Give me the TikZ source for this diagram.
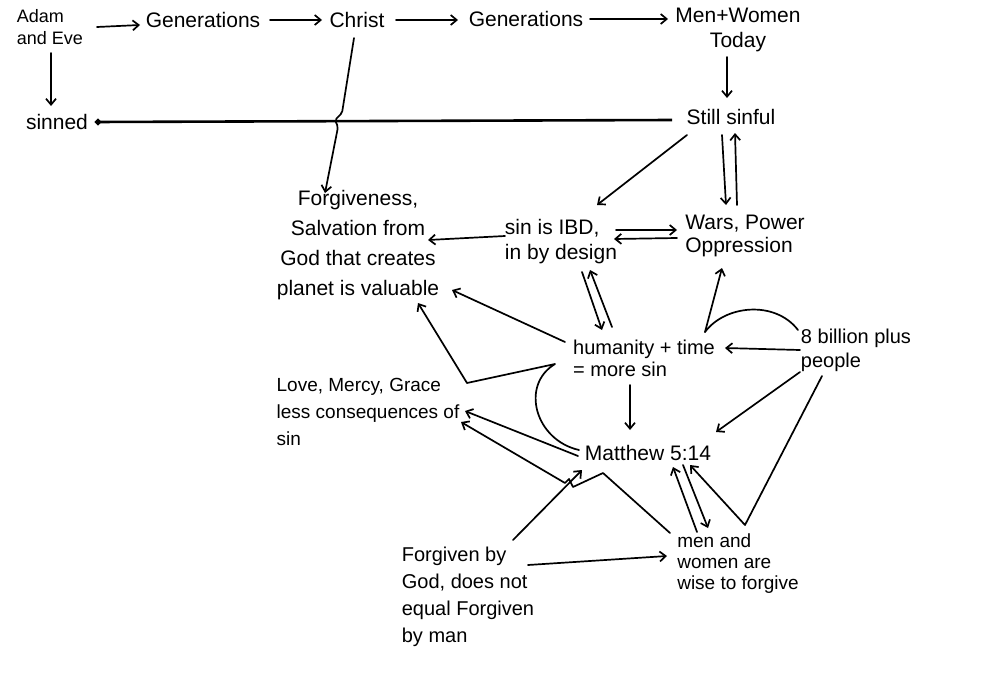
\documentclass[tikz,border=0pt]{standalone}
\usepackage{fontspec}
\setmainfont{Liberation Sans}
\usetikzlibrary{arrows.meta}
\tikzset{
  lbl/.style={font=\fontsize{21}{25}\selectfont, inner sep=0pt, align=center},
  lbll/.style={lbl, align=left},
  arr/.style={-{Straight Barb[length=6pt,width=10pt]}, line width=1.7pt, line cap=round, line join=round},
  ln/.style={line width=1.7pt, line cap=round, line join=round},
  thickln/.style={line width=2.6pt, {Circle[length=6pt]}-},
}
\begin{document}
\begin{tikzpicture}[x=1pt,y=-1pt]
\useasboundingbox[fill=white] (0,0) rectangle (987,685);
% nodes
\node[lbll,font=\fontsize{18}{22}\selectfont] (adam) at (50,27) {Adam\\and Eve};
\node[lbl] (gen1) at (203,20) {Generations};
\node[lbl] (christ) at (357,20) {Christ};
\node[lbl] (gen2) at (526,19) {Generations};
\node[lbl] (men) at (738,30) {Men+Women\\Today};
\node[lbl] (still) at (731,117) {Still sinful};
\node[lbl] (sinned) at (57,122) {sinned};
\node[lbl,font=\fontsize{21}{30}\selectfont] (forg) at (358,245) {Forgiveness,\\Salvation from\\God that creates\\planet is valuable};
\node[lbll] (sinibd) at (561,242) {sin is IBD,\\in by design};
\node[lbll,font=\fontsize{21}{23}\selectfont] (wars) at (745,236) {Wars, Power\\Oppression};
\node[lbll,font=\fontsize{20}{22}\selectfont] (human) at (644,358) {humanity + time\\= more sin};
\node[lbll,font=\fontsize{20}{24}\selectfont] (billion) at (856,350) {8 billion plus\\people};
\node[lbll,font=\fontsize{19}{27}\selectfont] (love) at (368,412) {Love, Mercy, Grace\\less consequences of\\sin};
\node[lbl] (matt) at (648,453) {Matthew 5:14};
\node[lbll,font=\fontsize{19}{21}\selectfont] (menw) at (738,564) {men and\\women are\\wise to forgive};
\node[lbll,font=\fontsize{20}{27}\selectfont] (forgiven) at (468,597) {Forgiven by\\God, does not\\equal Forgiven\\by man};
% bend points
\coordinate (hop) at (337,121);
\coordinate (b1) at (745,525);
\coordinate (m1) at (603,473);
\coordinate (m2) at (573,487);
\coordinate (c1) at (555,364);
\coordinate (c2) at (467,383);
% top row
\draw[arr] ([shift={(47,0)}]adam.center) -- ([shift={(-63,5)}]gen1.center);
\draw[arr] ([shift={(67,0)}]gen1.center) -- ([shift={(-35,0)}]christ.center);
\draw[arr] ([shift={(39,0)}]christ.center) -- ([shift={(-68,1)}]gen2.center);
\draw[arr] ([shift={(64,0)}]gen2.center) -- ([shift={(-70,-11)}]men.center);
\draw[arr] ([shift={(1,26)}]adam.center) -- ([shift={(-6,-16)}]sinned.center);
\draw[thickln] ([shift={(38,0)}]sinned.center) -- ([shift={(-59,3)}]still.center);
\draw[arr,rounded corners=2pt] ([shift={(-3,18)}]christ.center) -- ([shift={(5,-8)}]hop) -- ([shift={(-2,-1)}]hop) -- ([shift={(1,6)}]hop) -- ([shift={(-33,-52)}]forg.center);
\draw[arr] ([shift={(-11,27)}]men.center) -- ([shift={(-4,-19)}]still.center);
% middle
\draw[arr] ([shift={(-44,18)}]still.center) -- ([shift={(36,-37)}]sinibd.center);
\draw[arr] ([shift={(-9,18)}]still.center) -- ([shift={(-19,-31)}]wars.center);
\draw[arr] ([shift={(-8,-31)}]wars.center) -- ([shift={(4,16)}]still.center);
\draw[arr] ([shift={(55,-12)}]sinibd.center) -- ([shift={(-68,-6)}]wars.center);
\draw[arr] ([shift={(-68,2)}]wars.center) -- ([shift={(53,-3)}]sinibd.center);
\draw[arr] ([shift={(-56,-6)}]sinibd.center) -- ([shift={(70,-5)}]forg.center);
\draw[arr] ([shift={(21,30)}]sinibd.center) -- ([shift={(-42,-28)}]human.center);
\draw[arr] ([shift={(-32,-31)}]human.center) -- ([shift={(29,28)}]sinibd.center);
\draw[arr] ([shift={(-79,-16)}]human.center) -- ([shift={(94,45)}]forg.center);
\draw[arr] ([shift={(61,-26)}]human.center) coordinate (j) -- ([shift={(-23,32)}]wars.center);
\draw[ln] (j) .. controls ([shift={(20,-27)}]j) and ([shift={(70,-32)}]j) .. ([shift={(-58,-20)}]billion.center);
\draw[arr] ([shift={(-56,0)}]billion.center) -- ([shift={(81,-10)}]human.center);
\draw[arr] ([shift={(-56,22)}]billion.center) -- ([shift={(68,-21)}]matt.center);
\draw[arr] ([shift={(-34,26)}]billion.center) -- (b1) -- ([shift={(42,12)}]matt.center);
% lower
\draw[arr] ([shift={(-41,-32)}]menw.center) -- ([shift={(25,14)}]matt.center);
\draw[arr] ([shift={(35,12)}]matt.center) -- ([shift={(-30,-36)}]menw.center);
\draw[arr] ([shift={(-14,27)}]human.center) -- ([shift={(-18,-23)}]matt.center);
\draw[arr] ([shift={(-70,3)}]matt.center) -- ([shift={(97,-1)}]love.center);
\draw[arr] ([shift={(-68,-31)}]menw.center) -- (m1) -- (m2) -- ([shift={(-4,-8)}]m2) -- ([shift={(-8,-4)}]m2) -- ([shift={(93,10)}]love.center);
\draw[arr] ([shift={(45,-57)}]forgiven.center) -- ([shift={(-66,17)}]matt.center);
\draw[arr] ([shift={(60,-32)}]forgiven.center) -- ([shift={(-71,-8)}]menw.center);
\draw[arr] ([shift={(-69,-3)}]matt.center) .. controls (535,440) and (520,385) .. (c1) -- (c2) -- ([shift={(60,58)}]forg.center);
\end{tikzpicture}
\end{document}
